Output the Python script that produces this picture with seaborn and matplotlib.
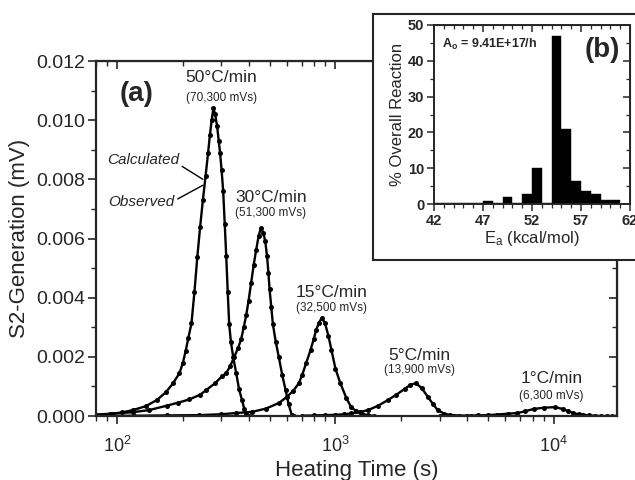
import numpy as np
import pandas as pd
import matplotlib
matplotlib.use("Agg")
import matplotlib.pyplot as plt
import seaborn as sns
from matplotlib.ticker import (LogLocator, MultipleLocator, NullFormatter,
                               FormatStrFormatter, FixedLocator)

sns.set_style("ticks")
plt.rcParams["font.family"] = ["Liberation Sans", "DejaVu Sans"]
plt.rcParams["mathtext.fontset"] = "custom"
plt.rcParams["mathtext.rm"] = "Liberation Sans"
plt.rcParams["mathtext.it"] = "Liberation Sans:italic"
plt.rcParams["mathtext.bf"] = "Liberation Sans:bold"

# ---- S2 generation curves (time in s, signal in 1e-3 mV) ----
rates = ["50°C/min", "30°C/min", "15°C/min", "5°C/min", "1°C/min"]
areas = ["(70,300 mVs)", "(51,300 mVs)", "(32,500 mVs)", "(13,900 mVs)", "(6,300 mVs)"]

t_50 = [80, 93, 105, 118, 135, 152, 167, 180, 193, 200, 206, 212, 219, 226, 233,
        240, 247, 254, 261, 266, 271, 276, 281, 287, 292, 296, 301, 306, 311, 316,
        321, 326, 332, 340, 351, 362, 373, 382, 390, 400]
s_50 = [0.03, 0.07, 0.12, 0.20, 0.33, 0.54, 0.80, 1.10, 1.45, 1.80, 2.20, 2.65, 3.13,
        4.20, 5.39, 6.40, 7.30, 8.10, 8.90, 9.50, 10.0, 10.4, 10.2, 9.8, 9.3, 8.9, 8.3,
        7.6, 6.5, 5.4, 4.2, 3.1, 2.5, 2.0, 1.45, 0.9, 0.54, 0.25, 0.07, 0.01]

t_30 = [80, 95, 118, 140, 169, 190, 214, 240, 256, 280, 303, 316, 330, 344, 358, 370,
        380, 390, 400, 411, 422, 433, 445, 456, 467, 477, 486, 493, 499, 508, 517, 533,
        550, 570, 591, 610, 630, 645]
s_30 = [0.05, 0.08, 0.13, 0.20, 0.35, 0.45, 0.56, 0.72, 0.88, 1.10, 1.35, 1.45, 1.70,
        2.00, 2.30, 2.60, 3.00, 3.40, 3.90, 4.50, 5.10, 5.60, 6.10, 6.36, 6.20, 5.90,
        5.40, 4.85, 4.30, 3.70, 3.10, 2.50, 2.00, 1.40, 0.88, 0.40, 0.05, 0.0]

t_15 = [80, 120, 170, 238, 300, 350, 415, 480, 551, 600, 640, 679, 705, 735, 769, 795,
        815, 840, 864, 895, 929, 959, 1000, 1054, 1123, 1180, 1245, 1320, 1412, 1500]
s_15 = [0.0, 0.01, 0.02, 0.03, 0.06, 0.10, 0.14, 0.25, 0.44, 0.65, 0.85, 1.10, 1.40,
        1.80, 2.23, 2.60, 2.90, 3.15, 3.31, 3.15, 2.70, 2.23, 1.60, 1.10, 0.60, 0.30,
        0.17, 0.07, 0.03, 0.0]

t_5 = [700, 800, 900, 1000, 1100, 1183, 1300, 1412, 1570, 1740, 1900, 2080, 2200, 2335,
       2480, 2650, 2800, 2940, 3150, 3365, 3700, 4200, 4800]
s_5 = [0.01, 0.02, 0.03, 0.04, 0.06, 0.09, 0.14, 0.20, 0.35, 0.54, 0.72, 0.92, 1.05,
       1.11, 0.95, 0.65, 0.40, 0.20, 0.08, 0.03, 0.01, 0.0, 0.0]

t_1 = [3000, 3500, 4000, 4500, 5000, 5500, 6200, 6800, 7400, 8100, 9000, 10100, 11000,
       11600, 12300, 13000, 13600, 14500, 15500, 16500, 17500, 18500, 19500]
s_1 = [0.0, 0.0, 0.01, 0.02, 0.03, 0.05, 0.08, 0.10, 0.16, 0.24, 0.28, 0.30, 0.24,
       0.17, 0.10, 0.06, 0.04, 0.02, 0.01, 0.0, 0.0, 0.0, 0.0]

# label anchor (time, signal in 1e-3 mV) for each heating rate
label_t = [300, 506, 959, 2432, 9790]
label_s = [11.43, 7.40, 4.19, 2.06, 1.28]
area_s = [10.75, 6.86, 3.65, 1.56, 0.68]

# ---- activation-energy distribution (inset) ----
ea_bins = [42, 43, 44, 45, 46, 47, 48, 49, 50, 51, 52, 53, 54, 55, 56, 57, 58, 59, 60, 61]
ea_pct = [0.2, 0.2, 0.3, 0.3, 0.3, 0.8, 0.4, 2.0, 0.2, 2.7, 10.0, 0.4, 47.0, 21.0,
          6.5, 3.5, 2.7, 1.0, 1.0, 0.0]
ea_ticks = [42, 47, 52, 57, 62]

series = [(t_50, s_50), (t_30, s_30), (t_15, s_15), (t_5, s_5), (t_1, s_1)]
frames = []
for name, (t, s) in zip(rates, series):
    frames.append(pd.DataFrame({"time": t, "signal": np.array(s) * 1e-3, "rate": name}))
df = pd.concat(frames, ignore_index=True)
ea_df = pd.DataFrame({"ea": np.array(ea_bins, dtype=float) + 0.5,
                      "pct": np.array(ea_pct, dtype=float)})

fig = plt.figure(figsize=(6.35, 4.8), dpi=100)
ax = fig.add_axes([0.1512, 0.1333, 0.8205, 0.7396], zorder=1)

sns.lineplot(data=df, x="time", y="signal", units="rate", estimator=None, sort=False,
             color="black", linewidth=1.7, marker="o", markersize=3.6,
             markeredgewidth=0, legend=False, ax=ax)

ax.set_xscale("log")
ax.set_xlim(80, 19500)
ax.set_ylim(0, 0.012)
ax.yaxis.set_major_locator(MultipleLocator(0.002))
ax.yaxis.set_minor_locator(MultipleLocator(0.001))
ax.yaxis.set_major_formatter(FormatStrFormatter("%.3f"))
ax.xaxis.set_major_locator(LogLocator(base=10))
ax.xaxis.set_minor_locator(LogLocator(base=10, subs=np.arange(2, 10)))
ax.xaxis.set_minor_formatter(NullFormatter())
for sp in ax.spines.values():
    sp.set_linewidth(1.6)
ax.tick_params(axis="both", which="major", direction="out", length=6, width=1.2)
ax.tick_params(axis="both", which="minor", direction="out", length=3.5, width=1.0)
ax.tick_params(axis="y", labelsize=14, pad=2)
ax.tick_params(axis="x", labelsize=13, pad=8)
ax.set_xlabel("Heating Time (s)", fontsize=16, labelpad=3)
ax.set_ylabel("S2-Generation (mV)", fontsize=16, labelpad=4)

# inward ticks on the top and right edges
top = ax.secondary_xaxis("top", functions=(lambda x: x, lambda x: x))
top.xaxis.set_major_locator(LogLocator(base=10))
top.xaxis.set_minor_locator(LogLocator(base=10, subs=np.arange(2, 10)))
top.xaxis.set_major_formatter(NullFormatter())
top.xaxis.set_minor_formatter(NullFormatter())
top.tick_params(which="major", direction="in", length=6, width=1.2)
top.tick_params(which="minor", direction="in", length=3.5, width=1.0)
right = ax.secondary_yaxis("right", functions=(lambda y: y, lambda y: y))
right.yaxis.set_major_locator(MultipleLocator(0.002))
right.yaxis.set_minor_locator(MultipleLocator(0.001))
right.yaxis.set_major_formatter(NullFormatter())
right.tick_params(which="major", direction="in", length=6, width=1.2)
right.tick_params(which="minor", direction="in", length=3.5, width=1.0)

for name, area, lt, ls, la in zip(rates, areas, label_t, label_s, area_s):
    ax.text(lt, ls * 1e-3, name, ha="center", va="center", fontsize=12.5)
    ax.text(lt, la * 1e-3, area, ha="center", va="center", fontsize=8.5)

ax.text(123, 0.01090, "(a)", ha="center", va="center", fontsize=20, fontweight="bold")
ax.annotate("Calculated", xy=(247, 0.0080), xytext=(131, 0.00865), fontsize=11,
            style="italic", ha="center", va="center",
            arrowprops=dict(arrowstyle="-", lw=1.0, color="black", relpos=(1.0, 0.2),
                            shrinkA=0, shrinkB=0))
ax.annotate("Observed", xy=(247, 0.0078), xytext=(129, 0.00723), fontsize=11,
            style="italic", ha="center", va="center",
            arrowprops=dict(arrowstyle="-", lw=1.0, color="black", relpos=(1.0, 0.6),
                            shrinkA=0, shrinkB=0))

# ---- inset panel (b) ----
frame = fig.add_axes([373 / 635, 1 - 260 / 480, 0.45, (260 - 14) / 480], zorder=3)
frame.set_facecolor("white")
frame.set_xticks([])
frame.set_yticks([])
for sp in frame.spines.values():
    sp.set_linewidth(1.5)

axin = fig.add_axes([434 / 635, 1 - 204 / 480, (630 - 434) / 635, (204 - 25) / 480],
                    zorder=4)
sns.histplot(data=ea_df, x="ea", weights="pct", bins=20, binrange=(42, 62),
             color="black", edgecolor="black", linewidth=0.3, alpha=1.0, ax=axin)
axin.set_xlim(42, 62)
axin.set_ylim(0, 50)
axin.xaxis.set_major_locator(FixedLocator(ea_ticks))
axin.xaxis.set_minor_locator(MultipleLocator(1))
axin.yaxis.set_major_locator(MultipleLocator(10))
axin.yaxis.set_minor_locator(MultipleLocator(5))
for sp in axin.spines.values():
    sp.set_linewidth(1.4)
axin.tick_params(which="major", direction="out", length=5, width=1.1, labelsize=10.5,
                 pad=2)
axin.tick_params(which="minor", direction="out", length=3, width=0.9)
for lab in axin.get_xticklabels() + axin.get_yticklabels():
    lab.set_fontweight("bold")
axin.set_xlabel(r"E$_\mathregular{a}$ (kcal/mol)", fontsize=12, labelpad=1)
axin.set_ylabel("% Overall Reaction", fontsize=12, labelpad=2)

itop = axin.secondary_xaxis("top")
itop.xaxis.set_major_locator(FixedLocator(ea_ticks))
itop.xaxis.set_minor_locator(MultipleLocator(1))
itop.xaxis.set_major_formatter(NullFormatter())
itop.tick_params(which="major", direction="in", length=5, width=1.1)
itop.tick_params(which="minor", direction="in", length=3, width=0.9)
iright = axin.secondary_yaxis("right")
iright.yaxis.set_major_locator(MultipleLocator(10))
iright.yaxis.set_minor_locator(MultipleLocator(5))
iright.yaxis.set_major_formatter(NullFormatter())
iright.tick_params(which="major", direction="in", length=5, width=1.1)
iright.tick_params(which="minor", direction="in", length=3, width=0.9)

axin.text(0.04, 0.89, r"A$_\mathregular{o}$ = 9.41E+17/h", transform=axin.transAxes,
          fontsize=9, fontweight="bold", ha="left", va="center")
axin.text(0.95, 0.86, "(b)", transform=axin.transAxes, fontsize=20,
          fontweight="bold", ha="right", va="center")

fig.savefig("out.png", dpi=100)
